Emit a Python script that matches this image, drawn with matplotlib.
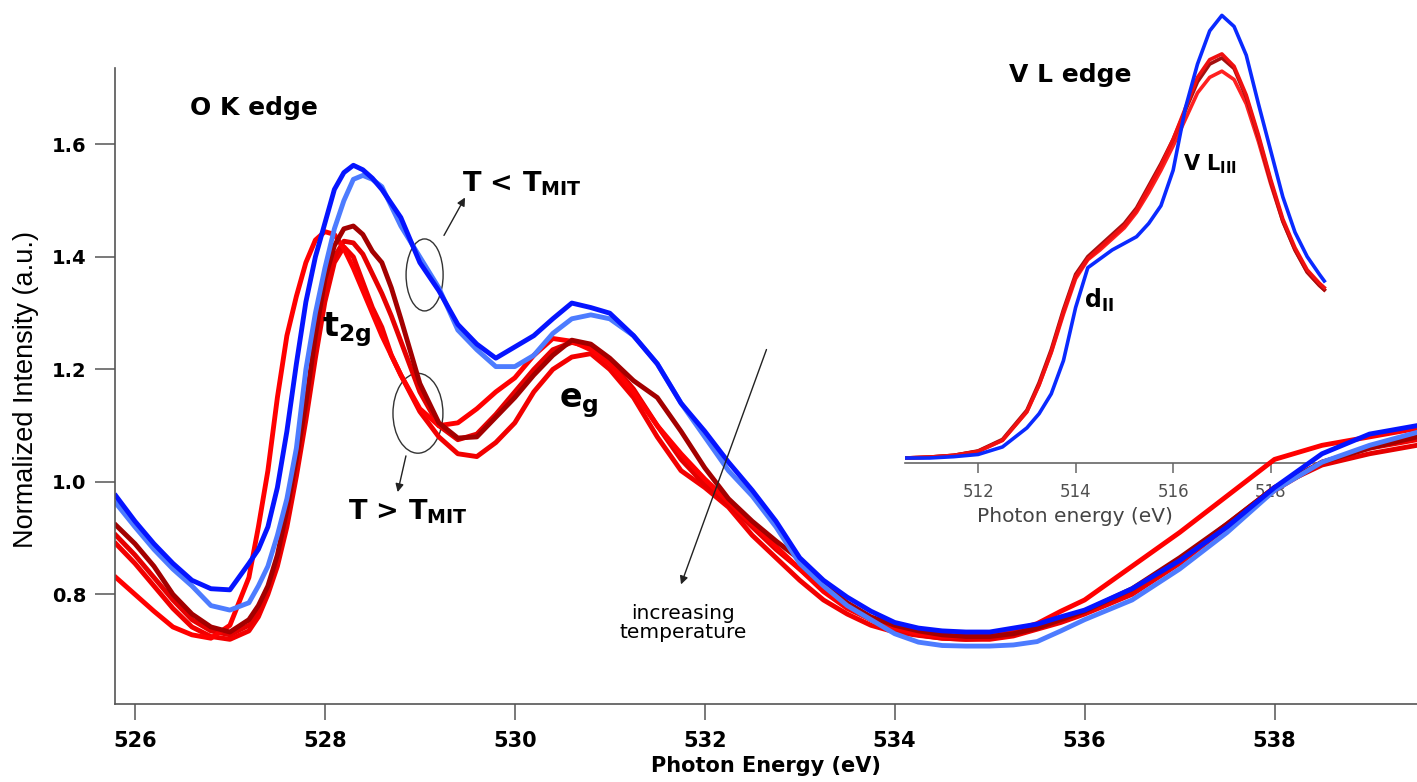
import matplotlib
matplotlib.use("Agg")
import matplotlib.pyplot as plt
from matplotlib.patches import Ellipse

# O K edge spectra (main panel)
energy = [525.8, 526.0, 526.2, 526.4, 526.6, 526.8, 527.0, 527.2,
          527.3, 527.4, 527.5, 527.6, 527.7, 527.8, 527.9, 528.0,
          528.1, 528.2, 528.3, 528.4, 528.5, 528.6, 528.7, 528.8,
          529.0, 529.2, 529.4, 529.6, 529.8, 530.0, 530.2, 530.4,
          530.6, 530.8, 531.0, 531.25, 531.5, 531.75, 532.0, 532.25,
          532.5, 532.75, 533.0, 533.25, 533.5, 533.75, 534.0, 534.25,
          534.5, 534.75, 535.0, 535.25, 535.5, 535.75, 536.0, 536.5,
          537.0, 537.5, 538.0, 538.5, 539.0, 539.5]

blue = [0.975, 0.93, 0.89, 0.855, 0.825, 0.81, 0.808, 0.855,
        0.88, 0.92, 0.99, 1.09, 1.21, 1.32, 1.40, 1.46,
        1.52, 1.55, 1.563, 1.555, 1.54, 1.52, 1.495, 1.47,
        1.39, 1.34, 1.28, 1.245, 1.22, 1.24, 1.26, 1.29,
        1.318, 1.31, 1.30, 1.26, 1.21, 1.14, 1.09, 1.035,
        0.985, 0.93, 0.865, 0.825, 0.795, 0.77, 0.75, 0.74,
        0.735, 0.733, 0.733, 0.74, 0.747, 0.76, 0.772, 0.81,
        0.86, 0.92, 0.99, 1.05, 1.085, 1.10]

light_blue = [0.962, 0.92, 0.88, 0.845, 0.815, 0.78, 0.772, 0.785,
              0.815, 0.85, 0.905, 0.97, 1.06, 1.20, 1.30, 1.38,
              1.45, 1.50, 1.538, 1.545, 1.538, 1.525, 1.49, 1.455,
              1.40, 1.345, 1.27, 1.235, 1.205, 1.205, 1.225, 1.264,
              1.29, 1.297, 1.29, 1.26, 1.21, 1.14, 1.08, 1.02,
              0.975, 0.92, 0.855, 0.815, 0.78, 0.755, 0.73, 0.715,
              0.709, 0.708, 0.708, 0.71, 0.716, 0.735, 0.755, 0.79,
              0.845, 0.91, 0.985, 1.035, 1.065, 1.088]

dark_red = [0.923, 0.89, 0.85, 0.80, 0.765, 0.742, 0.733, 0.755,
            0.78, 0.815, 0.87, 0.95, 1.04, 1.14, 1.26, 1.36,
            1.42, 1.45, 1.455, 1.44, 1.41, 1.39, 1.345, 1.29,
            1.175, 1.105, 1.078, 1.08, 1.115, 1.15, 1.19, 1.225,
            1.252, 1.245, 1.22, 1.18, 1.15, 1.09, 1.025, 0.97,
            0.93, 0.895, 0.862, 0.82, 0.785, 0.76, 0.745, 0.735,
            0.728, 0.725, 0.725, 0.73, 0.74, 0.755, 0.77, 0.81,
            0.865, 0.925, 0.99, 1.035, 1.06, 1.08]

red_a = [0.83, 0.80, 0.77, 0.742, 0.728, 0.722, 0.745, 0.83,
         0.92, 1.02, 1.15, 1.26, 1.33, 1.39, 1.43, 1.445,
         1.44, 1.415, 1.38, 1.34, 1.30, 1.26, 1.225, 1.19,
         1.13, 1.10, 1.105, 1.13, 1.16, 1.185, 1.225, 1.255,
         1.25, 1.235, 1.21, 1.16, 1.10, 1.05, 1.005, 0.965,
         0.925, 0.885, 0.845, 0.805, 0.775, 0.755, 0.74, 0.73,
         0.725, 0.725, 0.728, 0.735, 0.748, 0.77, 0.79, 0.85,
         0.91, 0.975, 1.04, 1.065, 1.08, 1.095]

red_b = [0.905, 0.87, 0.83, 0.79, 0.755, 0.735, 0.728, 0.745,
         0.77, 0.81, 0.86, 0.93, 1.02, 1.12, 1.23, 1.33,
         1.40, 1.428, 1.425, 1.405, 1.37, 1.335, 1.295, 1.25,
         1.16, 1.10, 1.075, 1.085, 1.12, 1.16, 1.20, 1.235,
         1.248, 1.24, 1.215, 1.165, 1.10, 1.04, 0.995, 0.96,
         0.92, 0.88, 0.845, 0.81, 0.78, 0.755, 0.738, 0.728,
         0.722, 0.72, 0.722, 0.728, 0.74, 0.752, 0.77, 0.805,
         0.86, 0.925, 0.99, 1.03, 1.05, 1.065]

red_c = [0.89, 0.855, 0.815, 0.775, 0.742, 0.725, 0.72, 0.735,
         0.76, 0.80, 0.85, 0.92, 1.01, 1.11, 1.22, 1.32,
         1.39, 1.418, 1.40, 1.355, 1.31, 1.275, 1.225, 1.19,
         1.125, 1.08, 1.05, 1.045, 1.07, 1.105, 1.16, 1.20,
         1.222, 1.228, 1.20, 1.15, 1.08, 1.02, 0.99, 0.955,
         0.905, 0.865, 0.825, 0.79, 0.765, 0.745, 0.733, 0.727,
         0.722, 0.72, 0.72, 0.726, 0.738, 0.75, 0.765, 0.80,
         0.855, 0.92, 0.985, 1.035, 1.06, 1.075]

# V L edge spectra (inset)
energy_l = [510.5, 511.0, 511.5, 512.0, 512.5, 513.0, 513.25, 513.5,
            513.75, 514.0, 514.25, 514.5, 514.75, 515.0, 515.25, 515.5,
            515.75, 516.0, 516.25, 516.5, 516.75, 517.0, 517.25, 517.5,
            517.75, 518.0, 518.25, 518.5, 518.75, 519.0, 519.1]

blue_l = [0.0, 0.0, 0.003, 0.008, 0.025, 0.068, 0.10, 0.145,
          0.22, 0.34, 0.43, 0.45, 0.47, 0.485, 0.50, 0.53,
          0.57, 0.65, 0.79, 0.89, 0.965, 1.0, 0.975, 0.91,
          0.80, 0.695, 0.59, 0.51, 0.455, 0.415, 0.40]

red_l = [0.0, 0.002, 0.006, 0.015, 0.04, 0.105, 0.165, 0.24,
         0.33, 0.41, 0.45, 0.475, 0.50, 0.525, 0.56, 0.61,
         0.66, 0.72, 0.79, 0.86, 0.90, 0.913, 0.885, 0.82,
         0.73, 0.63, 0.54, 0.475, 0.425, 0.395, 0.385]

dark_red_l = [0.0, 0.002, 0.006, 0.016, 0.042, 0.108, 0.17, 0.245,
              0.335, 0.415, 0.455, 0.48, 0.505, 0.53, 0.565, 0.615,
              0.665, 0.72, 0.785, 0.85, 0.89, 0.904, 0.88, 0.815,
              0.725, 0.625, 0.535, 0.47, 0.42, 0.39, 0.38]

red2_l = [0.0, 0.002, 0.006, 0.015, 0.04, 0.104, 0.165, 0.238,
          0.325, 0.405, 0.448, 0.47, 0.495, 0.52, 0.555, 0.60,
          0.65, 0.705, 0.765, 0.825, 0.86, 0.874, 0.855, 0.80,
          0.715, 0.62, 0.535, 0.47, 0.42, 0.39, 0.38]

fig = plt.figure(figsize=(14.17, 7.82), dpi=100)
ax = fig.add_axes([115 / 1417, 1 - 704 / 782, 1302 / 1417, 636 / 782])
inset = fig.add_axes([905 / 1417, 1 - 463 / 782, 429 / 1417, 458 / 782])
inset.set_zorder(0)
ax.set_zorder(1)
ax.patch.set_visible(False)

spine_col = "#555555"

# ---- main panel
lw = 3.5
ax.plot(energy, red_c, color="#f20000", lw=lw, solid_joinstyle="round")
ax.plot(energy, red_b, color="#e60000", lw=lw, solid_joinstyle="round")
ax.plot(energy, red_a, color="#ff0000", lw=lw, solid_joinstyle="round")
ax.plot(energy, dark_red, color="#a30000", lw=lw, solid_joinstyle="round")
ax.plot(energy, light_blue, color="#4d7cff", lw=lw, solid_joinstyle="round")
ax.plot(energy, blue, color="#0514ff", lw=lw, solid_joinstyle="round")

ax.set_xlim(525.79, 539.5)
ax.set_ylim(0.605, 1.736)
ax.set_xticks([526, 528, 530, 532, 534, 536, 538])
ax.set_yticks([0.8, 1.0, 1.2, 1.4, 1.6])
ax.set_yticklabels(["0.8", "1.0", "1.2", "1.4", "1.6"])
for s in ["top", "right"]:
  ax.spines[s].set_visible(False)
for s in ["left", "bottom"]:
  ax.spines[s].set_color(spine_col)
  ax.spines[s].set_linewidth(1.2)
ax.tick_params(axis="x", length=11.5, width=1.1, color=spine_col, pad=8, labelsize=15)
ax.tick_params(axis="y", length=14.4, width=1.1, color=spine_col, pad=6, labelsize=14)
for lab in ax.get_xticklabels() + ax.get_yticklabels():
  lab.set_fontweight("bold")

ax.set_xlabel("Photon Energy (eV)", fontsize=15, fontweight="bold", va="center")
ax.xaxis.set_label_coords(0.5, -0.0975)
ax.set_ylabel("Normalized Intensity (a.u.)", fontsize=19.5,
              family=["Liberation Sans", "DejaVu Sans"], va="center")
ax.yaxis.set_label_coords(-0.068, 0.495)

# circles and arrows
ax.add_patch(Ellipse((529.05, 1.368), 0.39, 0.128, fill=False, ec="#333333", lw=1))
ax.add_patch(Ellipse((528.98, 1.122), 0.526, 0.142, fill=False, ec="#333333", lw=1))
arrow = dict(arrowstyle="-|>", color="#222222", lw=1, mutation_scale=12)
ax.annotate("", xy=(529.49, 1.51), xytext=(529.24, 1.434), arrowprops=arrow)
ax.annotate("", xy=(528.76, 0.977), xytext=(528.86, 1.051), arrowprops=arrow)
ax.annotate("", xy=(531.74, 0.813), xytext=(532.66, 1.24), arrowprops=arrow)

ax.text(529.44, 1.531, r"T < T$_{\mathbf{MIT}}$", fontsize=19.5, fontweight="bold", va="center")
ax.text(528.24, 0.946, r"T > T$_{\mathbf{MIT}}$", fontsize=19.5, fontweight="bold", va="center")
ax.text(527.97, 1.27, r"$\mathbf{t}_{\mathbf{2g}}$", fontsize=24, va="center")
ax.text(530.47, 1.14, r"$\mathbf{e}_{\mathbf{g}}$", fontsize=24, va="center")
ax.text(526.58, 1.665, "O K edge", fontsize=18, fontweight="bold", va="center")
ax.text(531.77, 0.749, "increasing\ntemperature", fontsize=14.5, ha="center",
        va="center", linespacing=1.0)

# ---- inset (V L edge)
lw_l = 2.6
inset.plot(energy_l, red2_l, color="#ff2020", lw=lw_l)
inset.plot(energy_l, dark_red_l, color="#a31010", lw=lw_l)
inset.plot(energy_l, red_l, color="#f01010", lw=lw_l)
inset.plot(energy_l, blue_l, color="#0a2aff", lw=lw_l)

inset.set_xlim(510.5, 519.3)
inset.set_ylim(-0.0113, 1.0235)
inset.set_xticks([512, 514, 516, 518])
inset.set_yticks([])
inset.patch.set_visible(False)
for s in ["top", "right", "left"]:
  inset.spines[s].set_visible(False)
inset.spines["bottom"].set_color("#666666")
inset.spines["bottom"].set_linewidth(1.2)
inset.tick_params(axis="x", length=7.5, width=1.1, color="#666666", pad=7,
                  labelsize=12, labelcolor="#505050")
inset.set_xlabel("Photon energy (eV)", fontsize=14.5, color="#444444", va="center")
inset.xaxis.set_label_coords(0.395, -0.116)

inset.text(512.63, 0.865, "V L edge", fontsize=18, fontweight="bold", va="center")
inset.text(516.21, 0.663, r"V L$_{\mathbf{III}}$", fontsize=15, fontweight="bold", va="center")
inset.text(514.18, 0.356, r"$\mathbf{d}_{\mathbf{II}}$", fontsize=17, va="center")

fig.savefig("out.png", dpi=100)
